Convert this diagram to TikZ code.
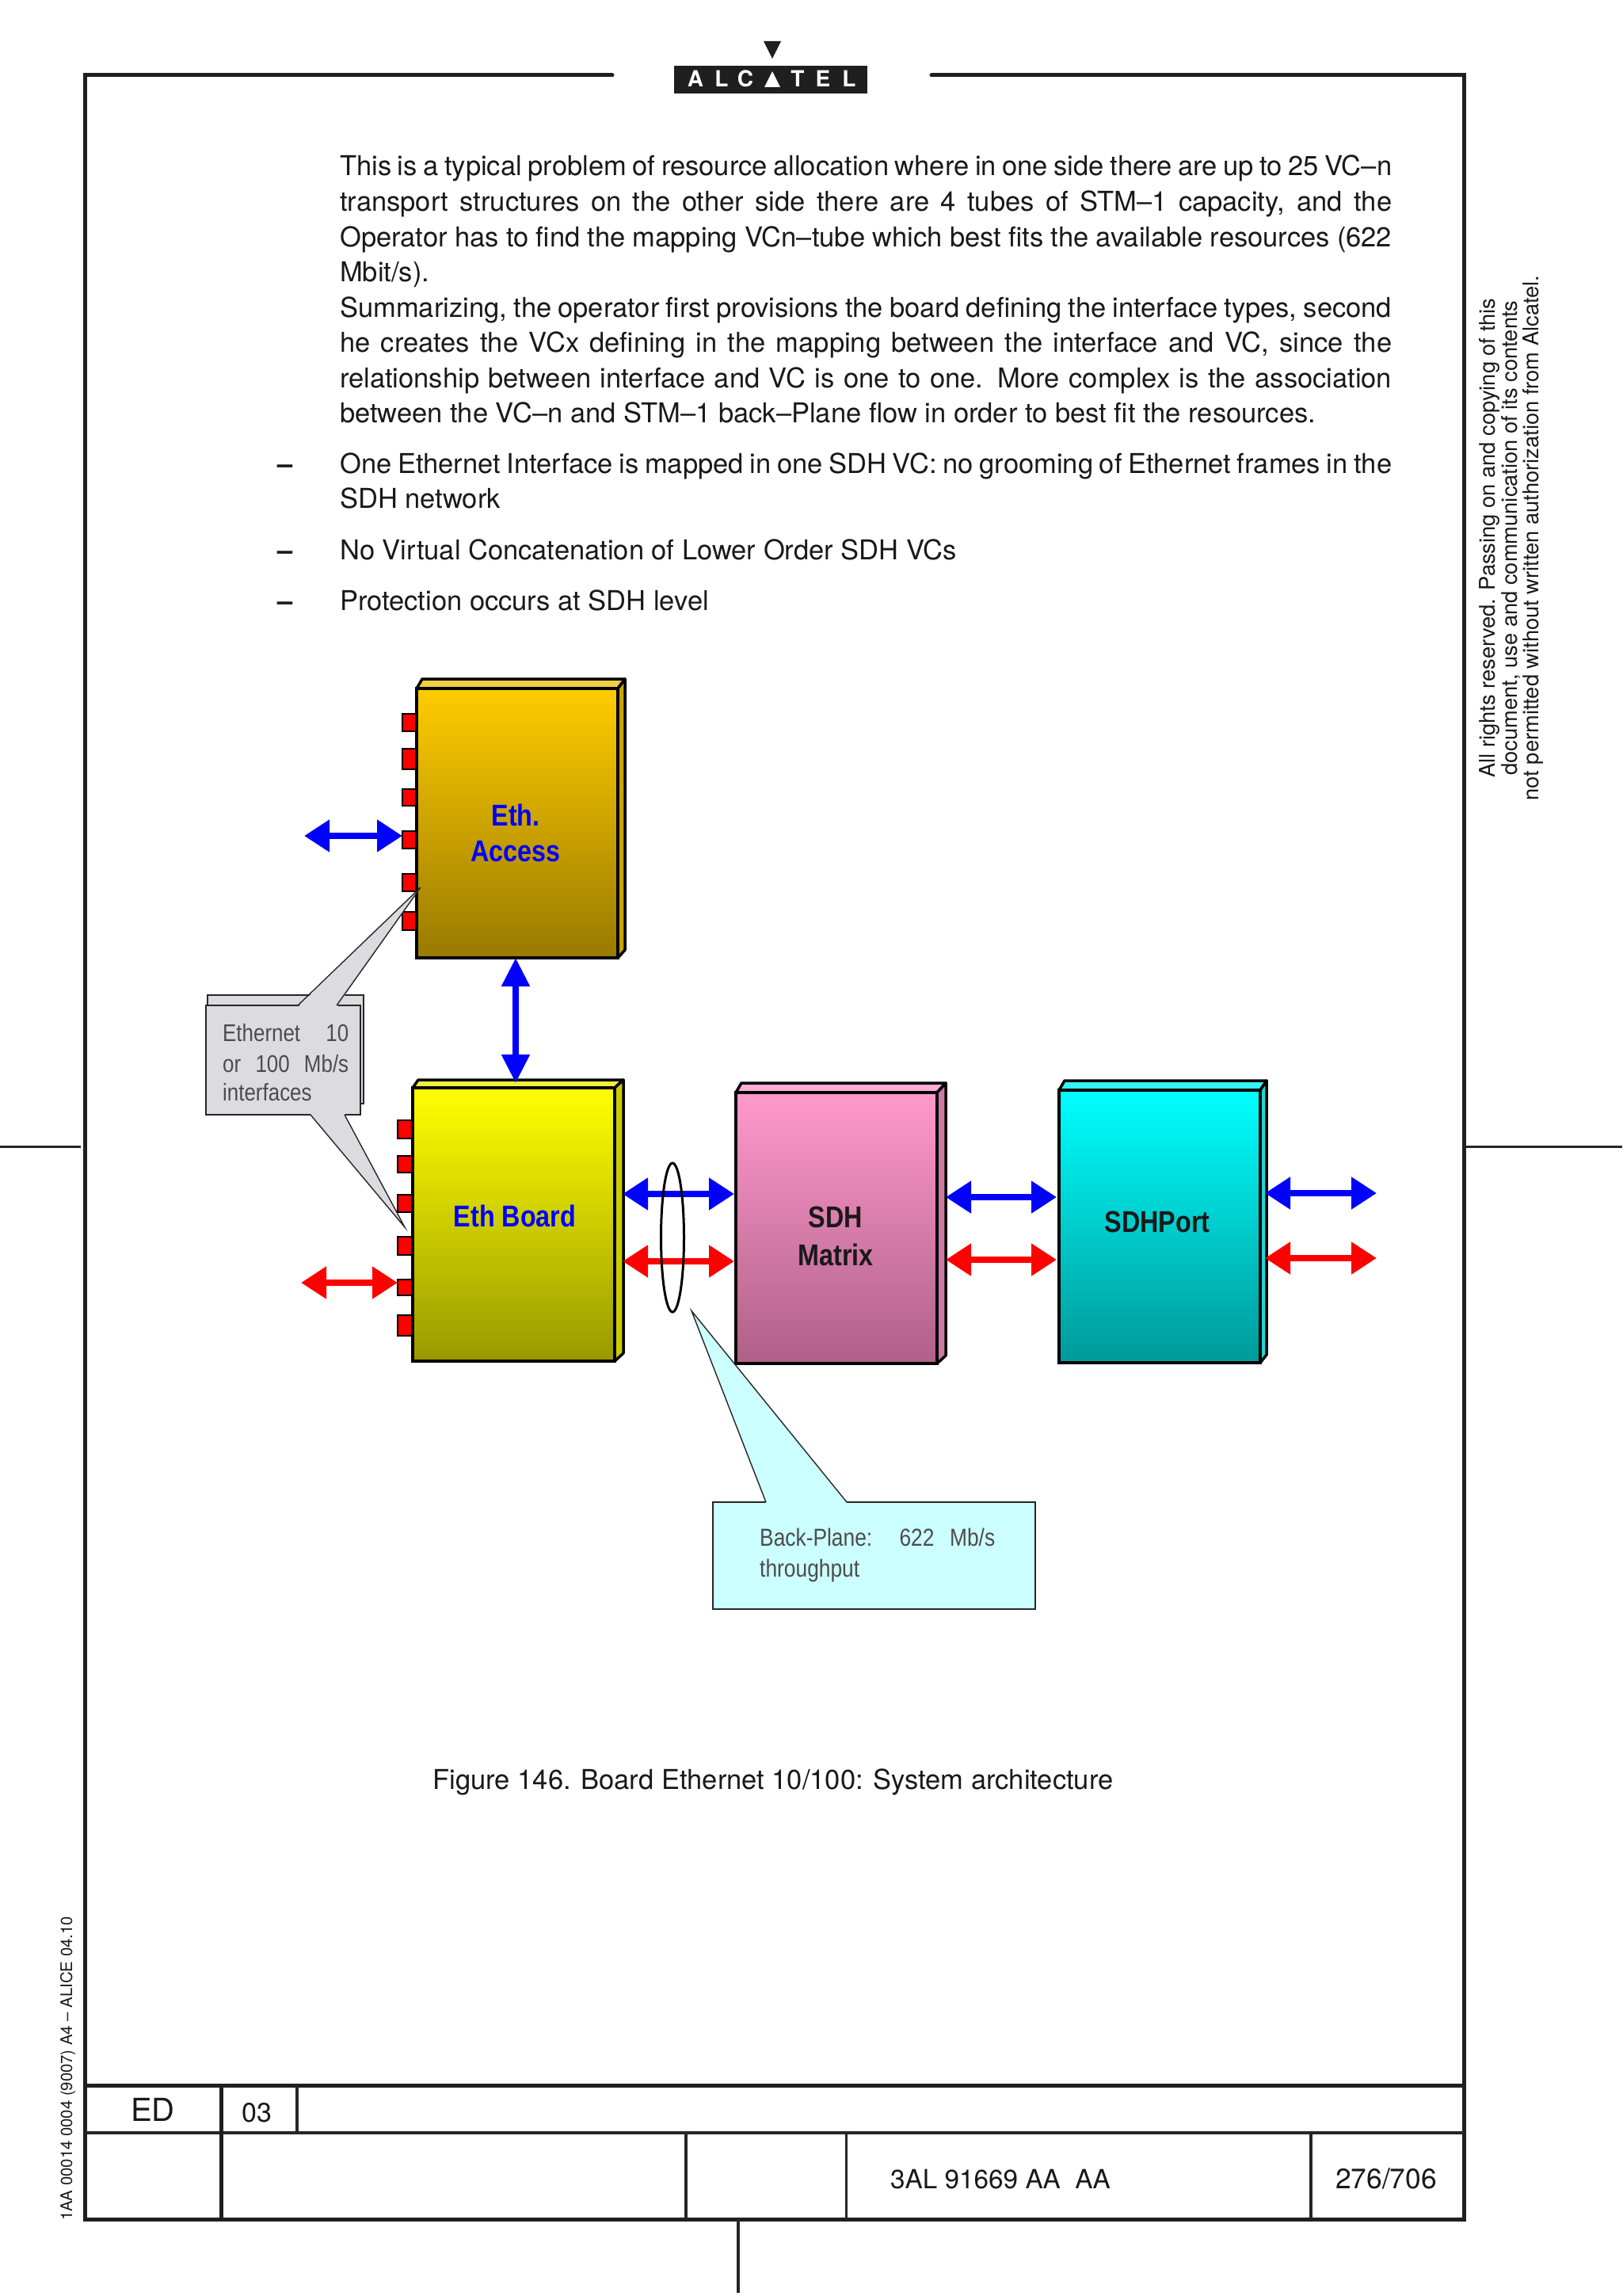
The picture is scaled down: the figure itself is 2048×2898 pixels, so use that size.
\documentclass[tikz,border=0pt]{standalone}
\usepackage{fontspec}
\setmainfont{TeX Gyre Heros}
\newfontfamily\narrowsans[FakeStretch=0.85]{Liberation Sans}
\usetikzlibrary{arrows.meta,shapes.geometric}
\tikzset{
  x=1pt,y=-1pt,
  frameline/.style={line width=5pt,color=black!88},
  thinframe/.style={line width=3.2pt,color=black!85},
  blockbox/.style={rectangle,draw=black,line width=4pt,inner sep=0pt,outer sep=0pt,anchor=north west},
  blockface/.style={draw=black,line width=3.5pt,line join=round},
  portbox/.style={rectangle,draw=black,fill=red,line width=1.6pt,inner sep=0pt,outer sep=0pt,anchor=north west,minimum width=18pt},
  dbl/.style={line width=8pt,{Triangle[length=32pt,width=39pt]}-{Triangle[length=32pt,width=39pt]}},
  dblv/.style={line width=8pt,{Triangle[length=36pt,width=34pt]}-{Triangle[length=36pt,width=34pt]}},
  bluea/.style={dbl,color=blue},
  reda/.style={dbl,color=red},
  txt/.style={anchor=base west,inner sep=0pt,font=\fontsize{34.5}{44}\selectfont,color=black!90},
  sidetxt/.style={anchor=base,inner sep=0pt,rotate=90,font=\fontsize{27.3}{28.5}\selectfont,color=black!90},
  lab/.style={anchor=base,inner sep=0pt,font=\narrowsans\bfseries\fontsize{38}{44}\selectfont},
  calltxt/.style={anchor=base west,inner sep=0pt,font=\narrowsans\fontsize{30.5}{36}\selectfont,color=black!70},
  graycall/.style={draw=black!85,line width=1.6pt,fill=graybox},
  bluecall/.style={draw=black!85,line width=1.6pt,fill=cyanbox},
}
\definecolor{graybox}{HTML}{DCDCE0}
\definecolor{cyanbox}{HTML}{CCFFFF}
\definecolor{aTop}{HTML}{FFCC00}\definecolor{aBot}{HTML}{997A00}\definecolor{aSide}{HTML}{CCA300}\definecolor{aFace}{HTML}{EFCF40}
\definecolor{bTop}{HTML}{FFFF00}\definecolor{bBot}{HTML}{999900}\definecolor{bSide}{HTML}{CCCC00}\definecolor{bFace}{HTML}{F0F040}
\definecolor{pTop}{HTML}{FF99CC}\definecolor{pBot}{HTML}{AF6088}\definecolor{pSide}{HTML}{CC7AA3}\definecolor{pFace}{HTML}{FFADD6}
\definecolor{cTop}{HTML}{00FFFF}\definecolor{cBot}{HTML}{009999}\definecolor{cSide}{HTML}{19D8D8}\definecolor{cFace}{HTML}{33F5F5}
\newcommand{\jl}[1]{\makebox[1328pt][s]{#1}}
% name, x, y, w, h, dx, dy, colour prefix
\newcommand{\blockdraw}[8]{%
  \path[blockface,fill=#8Face] (#2,#3) -- (#2+7,#3-#7) -- (#2+#4+#6,#3-#7) -- (#2+#4,#3) -- cycle;
  \path[blockface,fill=#8Side] (#2+#4,#3) -- (#2+#4+#6,#3-#7) -- (#2+#4+#6,#3+#5-10) -- (#2+#4,#3+#5) -- cycle;
  \node[blockbox,minimum width=#4pt,minimum height=#5pt,top color=#8Top,bottom color=#8Bot] (#1) at (#2,#3) {};
}
\begin{document}
\begin{tikzpicture}
\useasboundingbox (0,0) rectangle (2048,2898);
\fill[white] (0,0) rectangle (2048,2898);
% frame
\coordinate (tl) at (107,95);
\coordinate (tlend) at (773,95);
\coordinate (trstart) at (1176,95);
\coordinate (tr) at (1848,95);
\coordinate (br) at (1848,2801);
\coordinate (bl) at (107,2801);
\draw[frameline,line cap=round] (tlend) -- (tl) -- (bl) -- (br) -- (tr) -- (trstart);
\draw[thinframe] (0,1447.5) -- (102,1447.5);
\draw[thinframe] (1850,1447.5) -- (2048,1447.5);
\draw[frameline] (107,2632) -- (1848,2632);
\draw[thinframe] (107,2692) -- (1848,2692);
\draw[frameline] (279,2632) -- (279,2801);
\draw[thinframe] (375,2632) -- (375,2692);
\draw[thinframe] (866,2692) -- (866,2801);
\draw[thinframe] (1068.5,2692) -- (1068.5,2801);
\draw[thinframe] (1655,2692) -- (1655,2801);
\draw[thinframe] (932,2801) -- (932,2894);
% logo
\fill[black!88] (964,52) -- (986,52) -- (975,74) -- cycle;
\fill[black!88] (851,83) rectangle (1095,118);
\foreach \n/\xx/\c in {la/878/A,lb/911/L,lc/941/C,le/1007/T,lf/1039/E,lg/1072/L}
  \node[anchor=base,inner sep=0pt,text=white,font=\bfseries\fontsize{28}{28}\selectfont] (\n) at (\xx,110) {\c};
\fill[white] (975,90) -- (985,110) -- (965,110) -- cycle;
% body text
\node[txt] (t1) at (429,222) {\jl{This is a typical problem of resource allocation where in one side there are up to 25 VC–n}};
\node[txt] (t2) at (429,266) {\jl{transport structures on the other side there are 4 tubes of STM–1 capacity, and the}};
\node[txt] (t3) at (429,311) {\jl{Operator has to find the mapping VCn–tube which best fits the available resources (622}};
\node[txt] (t4) at (429,355) {Mbit/s).};
\node[txt] (t5) at (429,400) {\jl{Summarizing, the operator first provisions the board defining the interface types, second}};
\node[txt] (t6) at (429,444) {\jl{he creates the VCx defining in the mapping between the interface and VC, since the}};
\node[txt] (t7) at (429,489) {\jl{relationship between interface and VC is one to one. More complex is the association}};
\node[txt] (t8) at (429,533) {between the VC–n and STM–1 back–Plane flow in order to best fit the resources.};
\node[txt] (d1) at (350,597) {\bfseries –};
\node[txt] (t9) at (429,597) {\jl{One Ethernet Interface is mapped in one SDH VC: no grooming of Ethernet frames in the}};
\node[txt] (t10) at (429,641) {SDH network};
\node[txt] (d2) at (350,706) {\bfseries –};
\node[txt] (t11) at (429,706) {No Virtual Concatenation of Lower Order SDH VCs};
\node[txt] (d3) at (350,770) {\bfseries –};
\node[txt] (t12) at (429,770) {Protection occurs at SDH level};
% side texts
\node[sidetxt] (side1) at (1887,679) {All rights reserved. Passing on and copying of this};
\node[sidetxt] (side2) at (1915,679) {document, use and communication of its contents};
\node[sidetxt] (side3) at (1942,679) {not permitted without written authorization from Alcatel.};
\node[anchor=base west,inner sep=0pt,rotate=90,font=\fontsize{20.3}{22}\selectfont,color=black!90] (code) at (91,2803) {1AA 00014 0004 (9007) A4 – ALICE 04.10};
% footer
\node[anchor=base,inner sep=0pt,font=\fontsize{40}{44}\selectfont,color=black!90] (ed) at (193,2677) {ED};
\node[anchor=base,inner sep=0pt,font=\fontsize{34}{40}\selectfont,color=black!90] (ed3) at (324,2678) {03};
\node[anchor=base,inner sep=0pt,font=\fontsize{33.3}{40}\selectfont,color=black!90] (doc) at (1263,2762) {3AL 91669 AA\ \ AA};
\node[anchor=base,inner sep=0pt,font=\fontsize{35.4}{40}\selectfont,color=black!90] (pg) at (1750,2762) {276/706};
\node[txt,anchor=base] (cap) at (976,2258) {Figure 146. Board Ethernet 10/100: System architecture};
% ports of Eth. Access
\foreach \n/\yy/\hh in {1/901/22,2/945/26,3/996/21,4/1049/22,5/1103/22,6/1151/23}
  \node[portbox,minimum height=\hh pt] (pa\n) at (508,\yy) {};
% ports of Eth Board
\foreach \n/\yy/\hh in {1/1414/23,2/1459/21,3/1508/22,4/1561/23,5/1615/20,6/1660/26}
  \node[portbox,minimum width=19pt,minimum height=\hh pt] (pb\n) at (502,\yy) {};
% blocks
\blockdraw{access}{526}{869}{254}{340}{9}{12}{a}
\blockdraw{board}{521}{1373}{255}{345}{11}{10}{b}
\blockdraw{matrix}{929}{1379}{254}{342}{11}{12}{p}
\blockdraw{sdhport}{1337}{1376}{254}{344}{8}{12}{c}
% labels
\node[lab,text=blue] (l1) at (651,1042) {Eth.};
\node[lab,text=blue] (l2) at (651,1087) {Access};
\node[lab,text=blue] (l3) at (650,1548) {Eth Board};
\node[lab,text=black!90] (l4) at (1055,1549) {SDH};
\node[lab,text=black!90] (l5) at (1055,1597) {Matrix};
\node[lab,text=black!90] (l6) at (1461,1555) {SDHPort};
% free ends of connectors
\coordinate (fa) at (384,1055);
\coordinate (fb) at (380,1619);
\coordinate (fc) at (1738,1506);
\coordinate (fd) at (1738,1588);
% connectors
\draw[bluea] (fa) -- ([yshift=5pt]pa4.west);
\draw[reda] (fb) -- ([yshift=6pt]pb5.west);
\draw[dblv,color=blue] ([xshift=-2pt]access.south) -- ([xshift=2.5pt,yshift=6pt]board.north);
\draw[bluea] ([xshift=10pt,yshift=38.5pt]board.east) -- ([xshift=-2pt,yshift=43pt]matrix.west);
\draw[reda] ([xshift=10pt,yshift=-46.5pt]board.east) -- ([xshift=-2pt,yshift=-42pt]matrix.west);
\draw[bluea] ([xshift=11pt,yshift=39pt]matrix.east) -- ([xshift=-3pt,yshift=37pt]sdhport.west);
\draw[reda] ([xshift=11pt,yshift=-40pt]matrix.east) -- ([xshift=-3pt,yshift=-42pt]sdhport.west);
\draw[bluea] ([xshift=6pt,yshift=42pt]sdhport.east) -- (fc);
\draw[reda] ([xshift=6pt,yshift=-40pt]sdhport.east) -- (fd);
% ellipse around the back-plane arrows
\node[ellipse,draw=black,line width=3pt,minimum width=29pt,minimum height=188pt,inner sep=0pt] (tube) at (849,1562) {};
% grey callout
\draw[draw=black!85,line width=2pt,fill=graybox] (262,1256) rectangle (459,1393);
\node[graycall,rectangle,anchor=north west,inner sep=0pt,outer sep=0pt,minimum width=195pt,minimum height=138pt] (ecall) at (260,1269) {};
\fill[graybox] (376,1271) -- (531,1120) -- (425,1271) -- cycle;
\draw[draw=black!85,line width=1.4pt] (376,1269) -- (531,1120) -- (425,1269);
\fill[graybox] (392,1406) -- (511,1549) -- (435,1406) -- cycle;
\draw[draw=black!85,line width=1.4pt] (392,1407) -- (511,1549) -- (435,1407);
\node[calltxt] (e1) at (281,1314.5) {\makebox[159pt][s]{Ethernet 10}};
\node[calltxt] (e2) at (281,1353) {\makebox[159pt][s]{or 100 Mb/s}};
\node[calltxt] (e3) at (281,1389) {interfaces};
% cyan callout
\node[bluecall,rectangle,anchor=north west,inner sep=0pt,outer sep=0pt,minimum width=407pt,minimum height=135pt] (bcall) at (900,1896) {};
\fill[cyanbox] (967,1897) -- (873,1654.5) -- (1069,1897) -- cycle;
\draw[draw=black!85,line width=1.4pt] (967,1896) -- (873,1654.5) -- (1069,1896);
\node[calltxt,font=\narrowsans\fontsize{31}{36}\selectfont] (b1) at (959,1951) {\makebox[297pt][s]{Back-Plane: 622 Mb/s}};
\node[calltxt,font=\narrowsans\fontsize{31}{36}\selectfont] (b2) at (959,1990) {throughput};
\end{tikzpicture}
\end{document}
